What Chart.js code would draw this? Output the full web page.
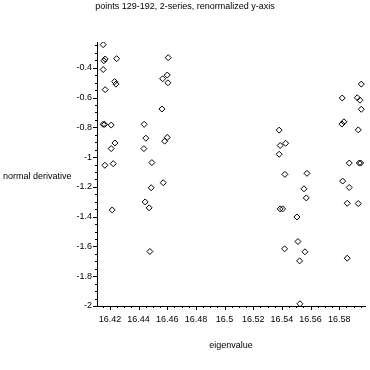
<!DOCTYPE html>
<html>
<head>
<meta charset="utf-8">
<script src="https://cdn.jsdelivr.net/npm/chart.js@4"></script>
<style>
  html, body { margin: 0; padding: 0; background: #fff; }
  #wrap { width: 370px; height: 370px; }
</style>
</head>
<body>
<div id="wrap"><canvas id="plot" width="370" height="370"></canvas></div>
<script>
// series 1: points around 16.42 and 16.45
const series1X = [16.4153, 16.4167, 16.4158, 16.4247, 16.4153, 16.4233, 16.4242, 16.4167,
                  16.4153, 16.4163, 16.4209, 16.4235, 16.4209, 16.4165, 16.4223, 16.4216,
                  16.4607, 16.4568, 16.4600, 16.4605, 16.4563, 16.4439, 16.4451, 16.4437,
                  16.4493, 16.4600, 16.4582, 16.4572, 16.4488, 16.4446, 16.4474, 16.4479];
const series1Y = [-0.245, -0.341, -0.353, -0.339, -0.412, -0.493, -0.510, -0.547,
                  -0.780, -0.780, -0.785, -0.905, -0.943, -1.055, -1.044, -1.355,
                  -0.332, -0.474, -0.449, -0.501, -0.677, -0.780, -0.873, -0.943,
                  -1.037, -0.868, -0.893, -1.172, -1.206, -1.301, -1.341, -1.634];
// series 2: points around 16.545 and 16.59
const series2X = [16.5381, 16.5388, 16.5426, 16.5381, 16.5421, 16.5575, 16.5554, 16.5570,
                  16.5388, 16.5405, 16.5505, 16.5512, 16.5419, 16.5561, 16.5524, 16.5526,
                  16.5954, 16.5821, 16.5926, 16.5945, 16.5954, 16.5833, 16.5819, 16.5933,
                  16.5870, 16.5940, 16.5950, 16.5824, 16.5870, 16.5856, 16.5933, 16.5856];
const series2Y = [-0.819, -0.922, -0.907, -0.981, -1.116, -1.109, -1.213, -1.274,
                  -1.348, -1.348, -1.402, -1.567, -1.616, -1.636, -1.697, -1.985,
                  -0.510, -0.603, -0.601, -0.618, -0.679, -0.763, -0.778, -0.817,
                  -1.040, -1.040, -1.040, -1.161, -1.204, -1.310, -1.312, -1.679];

const xTicks = [16.42, 16.44, 16.46, 16.48, 16.5, 16.52, 16.54, 16.56, 16.58];
const yTicks = [-2, -1.8, -1.6, -1.4, -1.2, -1, -0.8, -0.6, -0.4];

const titleText = "points 129-192, 2-series, renormalized y-axis";
const xTitle = "eigenvalue";
const yTitle = "normal derivative";

Chart.defaults.font.family = "'Liberation Sans', Arial, sans-serif";
Chart.defaults.font.size = 9;
Chart.defaults.color = "#000";

function toPoints(xs, ys) {
    return xs.map((x, i) => ({x: x, y: ys[i]}));
}

const diamond = {
    pointStyle: 'rectRot',
    pointRadius: 3,
    pointHoverRadius: 3,
    borderColor: '#000',
    borderWidth: 1,
    backgroundColor: 'rgba(0,0,0,0)',
    showLine: false
};

// titles and the small tick marks drawn on top of the chart
const decorations = {
    id: 'decorations',
    afterDraw(chart) {
        const {ctx, chartArea} = chart;
        const xs = chart.scales.x, ys = chart.scales.y;
        ctx.save();
        ctx.strokeStyle = '#000';
        ctx.lineWidth = 1;
        ctx.beginPath();
        // minor ticks every 0.005 on x, 0.05 on y
        for (let k = 0; k <= 36; k++) {
            const px = Math.round(xs.getPixelForValue(16.415 + k * 0.005)) + 0.5;
            ctx.moveTo(px, chartArea.bottom);
            ctx.lineTo(px, chartArea.bottom + 2);
        }
        for (let k = 0; k <= 35; k++) {
            const py = Math.round(ys.getPixelForValue(-2 + k * 0.05)) + 0.5;
            ctx.moveTo(chartArea.left, py);
            ctx.lineTo(chartArea.left - 2, py);
        }
        xTicks.forEach(v => {
            const px = Math.round(xs.getPixelForValue(v)) + 0.5;
            ctx.moveTo(px, chartArea.bottom);
            ctx.lineTo(px, chartArea.bottom + 4);
        });
        yTicks.forEach(v => {
            const py = Math.round(ys.getPixelForValue(v)) + 0.5;
            ctx.moveTo(chartArea.left, py);
            ctx.lineTo(chartArea.left - 4, py);
        });
        ctx.stroke();

        ctx.fillStyle = '#000';
        ctx.font = "9px 'Liberation Sans', Arial, sans-serif";
        ctx.textBaseline = 'middle';
        ctx.textAlign = 'center';
        ctx.fillText(titleText, 185, 7);
        ctx.fillText(xTitle, (chartArea.left + chartArea.right) / 2, 346);
        ctx.textAlign = 'left';
        ctx.fillText(yTitle, 3, 177);
        ctx.restore();
    }
};

new Chart(document.getElementById('plot'), {
    type: 'scatter',
    data: {
        datasets: [
            Object.assign({label: 'series 1', data: toPoints(series1X, series1Y)}, diamond),
            Object.assign({label: 'series 2', data: toPoints(series2X, series2Y)}, diamond)
        ]
    },
    options: {
        responsive: false,
        animation: false,
        devicePixelRatio: 1,
        layout: {padding: {top: 42, right: 5, left: 0, bottom: 0}},
        scales: {
            x: {
                type: 'linear',
                min: 16.411,
                max: 16.598,
                grid: {display: false, drawTicks: false},
                border: {display: true, color: '#000', width: 1},
                afterFit: s => { s.height = 64; },
                afterBuildTicks: s => { s.ticks = xTicks.map(v => ({value: v})); },
                ticks: {
                    padding: 8,
                    maxRotation: 0,
                    autoSkip: false,
                    callback: v => String(+v.toFixed(2))
                }
            },
            y: {
                type: 'linear',
                min: -2,
                max: -0.227,
                grid: {display: false, drawTicks: false},
                border: {display: true, color: '#000', width: 1},
                afterFit: s => { s.width = 97; },
                afterBuildTicks: s => { s.ticks = yTicks.map(v => ({value: v})); },
                ticks: {
                    padding: 5,
                    autoSkip: false,
                    callback: v => String(+v.toFixed(1))
                }
            }
        },
        plugins: {
            legend: {display: false},
            title: {display: false},
            tooltip: {enabled: false}
        }
    },
    plugins: [decorations]
});
</script>
</body>
</html>
